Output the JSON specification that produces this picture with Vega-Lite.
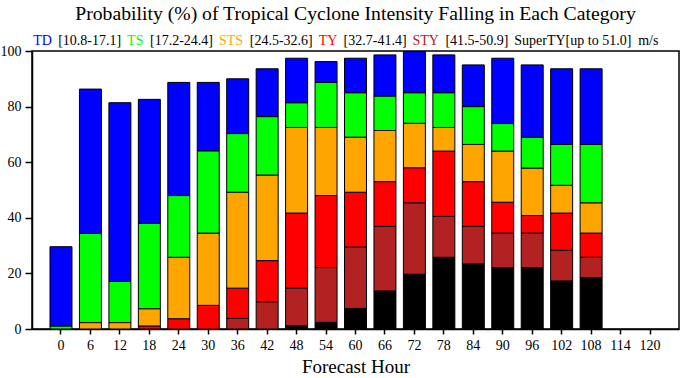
{
  "$schema": "https://vega.github.io/schema/vega-lite/v6.json",
  "width": 647,
  "height": 278,
  "autosize": {"type": "none"},
  "padding": {"left": 32, "top": 51, "right": 1, "bottom": 49},
  "background": "white",
  "title": {
    "text": "Probability (%) of Tropical Cyclone Intensity Falling in Each Category",
    "font": "Liberation Serif",
    "fontSize": 19.7,
    "fontWeight": "normal",
    "color": "black",
    "anchor": "middle",
    "frame": "group",
    "offset": 10
  },
  "datasets": {
    "bars": [
      {"hour": 0, "cat": "TS", "p": 1.1}, {"hour": 0, "cat": "TD", "p": 28.5},
      {"hour": 6, "cat": "STS", "p": 2.3}, {"hour": 6, "cat": "TS", "p": 32.1}, {"hour": 6, "cat": "TD", "p": 51.9},
      {"hour": 12, "cat": "STS", "p": 2.3}, {"hour": 12, "cat": "TS", "p": 14.8}, {"hour": 12, "cat": "TD", "p": 64.3},
      {"hour": 18, "cat": "TY", "p": 1.1}, {"hour": 18, "cat": "STS", "p": 6.2}, {"hour": 18, "cat": "TS", "p": 30.7}, {"hour": 18, "cat": "TD", "p": 44.6},
      {"hour": 24, "cat": "TY", "p": 3.7}, {"hour": 24, "cat": "STS", "p": 22.1}, {"hour": 24, "cat": "TS", "p": 22.2}, {"hour": 24, "cat": "TD", "p": 40.7},
      {"hour": 30, "cat": "TY", "p": 8.5}, {"hour": 30, "cat": "STS", "p": 26.0}, {"hour": 30, "cat": "TS", "p": 29.6}, {"hour": 30, "cat": "TD", "p": 24.6},
      {"hour": 36, "cat": "STY", "p": 3.8}, {"hour": 36, "cat": "TY", "p": 10.9}, {"hour": 36, "cat": "STS", "p": 34.5}, {"hour": 36, "cat": "TS", "p": 21.1}, {"hour": 36, "cat": "TD", "p": 19.7},
      {"hour": 42, "cat": "STY", "p": 9.8}, {"hour": 42, "cat": "TY", "p": 14.8}, {"hour": 42, "cat": "STS", "p": 30.8}, {"hour": 42, "cat": "TS", "p": 21.0}, {"hour": 42, "cat": "TD", "p": 17.2},
      {"hour": 48, "cat": "SuperTY", "p": 1.2}, {"hour": 48, "cat": "STY", "p": 13.5}, {"hour": 48, "cat": "TY", "p": 27.0}, {"hour": 48, "cat": "STS", "p": 30.8}, {"hour": 48, "cat": "TS", "p": 8.9}, {"hour": 48, "cat": "TD", "p": 16.0},
      {"hour": 54, "cat": "SuperTY", "p": 2.4}, {"hour": 54, "cat": "STY", "p": 19.7}, {"hour": 54, "cat": "TY", "p": 25.9}, {"hour": 54, "cat": "STS", "p": 24.5}, {"hour": 54, "cat": "TS", "p": 16.2}, {"hour": 54, "cat": "TD", "p": 7.5},
      {"hour": 60, "cat": "SuperTY", "p": 7.4}, {"hour": 60, "cat": "STY", "p": 22.1}, {"hour": 60, "cat": "TY", "p": 19.7}, {"hour": 60, "cat": "STS", "p": 19.8}, {"hour": 60, "cat": "TS", "p": 16.0}, {"hour": 60, "cat": "TD", "p": 12.4},
      {"hour": 66, "cat": "SuperTY", "p": 13.7}, {"hour": 66, "cat": "STY", "p": 23.2}, {"hour": 66, "cat": "TY", "p": 16.1}, {"hour": 66, "cat": "STS", "p": 18.4}, {"hour": 66, "cat": "TS", "p": 12.4}, {"hour": 66, "cat": "TD", "p": 14.8},
      {"hour": 72, "cat": "SuperTY", "p": 19.7}, {"hour": 72, "cat": "STY", "p": 25.7}, {"hour": 72, "cat": "TY", "p": 12.6}, {"hour": 72, "cat": "STS", "p": 16.0}, {"hour": 72, "cat": "TS", "p": 11.0}, {"hour": 72, "cat": "TD", "p": 14.8},
      {"hour": 78, "cat": "SuperTY", "p": 25.8}, {"hour": 78, "cat": "STY", "p": 14.7}, {"hour": 78, "cat": "TY", "p": 23.5}, {"hour": 78, "cat": "STS", "p": 8.5}, {"hour": 78, "cat": "TS", "p": 12.5}, {"hour": 78, "cat": "TD", "p": 13.6},
      {"hour": 84, "cat": "SuperTY", "p": 23.4}, {"hour": 84, "cat": "STY", "p": 13.5}, {"hour": 84, "cat": "TY", "p": 16.1}, {"hour": 84, "cat": "STS", "p": 13.4}, {"hour": 84, "cat": "TS", "p": 13.6}, {"hour": 84, "cat": "TD", "p": 15.0},
      {"hour": 90, "cat": "SuperTY", "p": 22.1}, {"hour": 90, "cat": "STY", "p": 12.4}, {"hour": 90, "cat": "TY", "p": 11.1}, {"hour": 90, "cat": "STS", "p": 18.4}, {"hour": 90, "cat": "TS", "p": 9.9}, {"hour": 90, "cat": "TD", "p": 23.5},
      {"hour": 96, "cat": "SuperTY", "p": 22.1}, {"hour": 96, "cat": "STY", "p": 12.4}, {"hour": 96, "cat": "TY", "p": 6.3}, {"hour": 96, "cat": "STS", "p": 17.1}, {"hour": 96, "cat": "TS", "p": 11.1}, {"hour": 96, "cat": "TD", "p": 26.0},
      {"hour": 102, "cat": "SuperTY", "p": 17.3}, {"hour": 102, "cat": "STY", "p": 11.0}, {"hour": 102, "cat": "TY", "p": 13.4}, {"hour": 102, "cat": "STS", "p": 10.0}, {"hour": 102, "cat": "TS", "p": 14.7}, {"hour": 102, "cat": "TD", "p": 27.2},
      {"hour": 108, "cat": "SuperTY", "p": 18.5}, {"hour": 108, "cat": "STY", "p": 7.3}, {"hour": 108, "cat": "TY", "p": 8.7}, {"hour": 108, "cat": "STS", "p": 10.9}, {"hour": 108, "cat": "TS", "p": 21.0}, {"hour": 108, "cat": "TD", "p": 27.2}
    ],
    "legend": [
      {"item": "TD"}, {"item": "[10.8-17.1]"}, {"item": "TS"}, {"item": "[17.2-24.4]"},
      {"item": "STS"}, {"item": "[24.5-32.6]"}, {"item": "TY"}, {"item": "[32.7-41.4]"},
      {"item": "STY"}, {"item": "[41.5-50.9]"}, {"item": "SuperTY[up to 51.0]"}, {"item": "m/s"}
    ]
  },
  "layer": [
    {
      "data": {"name": "bars"},
      "transform": [
        {"calculate": "indexof(['SuperTY','STY','TY','STS','TS','TD'], datum.cat)", "as": "stackRank"}
      ],
      "mark": {"type": "bar", "stroke": "black", "strokeWidth": 1},
      "encoding": {
        "x": {
          "field": "hour",
          "type": "ordinal",
          "scale": {
            "domain": [0, 6, 12, 18, 24, 30, 36, 42, 48, 54, 60, 66, 72, 78, 84, 90, 96, 102, 108, 114, 120],
            "paddingInner": 0.253,
            "paddingOuter": 0.611
          },
          "axis": {
            "title": "Forecast Hour",
            "labelAngle": 0,
            "tickSize": 5,
            "labelPadding": 4,
            "titlePadding": 5,
            "titleFontSize": 19,
            "titleFontWeight": "normal"
          }
        },
        "y": {
          "field": "p",
          "type": "quantitative",
          "stack": "zero",
          "scale": {"domain": [0, 100], "nice": false},
          "axis": {"title": null, "values": [0, 20, 40, 60, 80, 100], "tickSize": 7, "labelPadding": 4}
        },
        "color": {
          "field": "cat",
          "type": "nominal",
          "scale": {
            "domain": ["SuperTY", "STY", "TY", "STS", "TS", "TD"],
            "range": ["#000000", "#b22222", "#ff0000", "#ffa500", "#00ff00", "#0000ff"]
          },
          "legend": null
        },
        "order": {"field": "stackRank", "type": "quantitative", "sort": "ascending"}
      }
    },
    {
      "data": {"name": "legend"},
      "mark": {"type": "point", "opacity": 0},
      "encoding": {
        "shape": {
          "field": "item",
          "type": "nominal",
          "sort": null,
          "scale": {
            "domain": ["TD", "[10.8-17.1]", "TS", "[17.2-24.4]", "STS", "[24.5-32.6]", "TY", "[32.7-41.4]", "STY", "[41.5-50.9]", "SuperTY[up to 51.0]", "m/s"]
          },
          "legend": {
            "orient": "none",
            "legendX": 1.3,
            "legendY": -17,
            "direction": "horizontal",
            "title": null,
            "padding": 0,
            "symbolSize": 0.01,
            "symbolStrokeWidth": 0.01,
            "labelOffset": -14,
            "columnPadding": 5.9,
            "labelFont": "Liberation Serif",
            "labelFontSize": 14,
            "labelLimit": 300,
            "encoding": {
              "labels": {
                "fill": {"value": {"expr": "datum.value == 'TD' ? '#0000ff' : datum.value == 'TS' ? '#00ff00' : datum.value == 'STS' ? '#ffa500' : datum.value == 'TY' ? '#ff0000' : datum.value == 'STY' ? '#b22222' : '#000000'"}}
              }
            }
          }
        }
      }
    }
  ],
  "config": {
    "view": {"stroke": "black", "strokeWidth": 1.5},
    "font": "Liberation Serif",
    "axis": {
      "grid": false,
      "domainColor": "black",
      "domainWidth": 1.5,
      "tickColor": "black",
      "tickWidth": 1.5,
      "labelColor": "black",
      "labelFont": "Liberation Serif",
      "labelFontSize": 14,
      "titleFont": "Liberation Serif",
      "titleColor": "black"
    }
  }
}
